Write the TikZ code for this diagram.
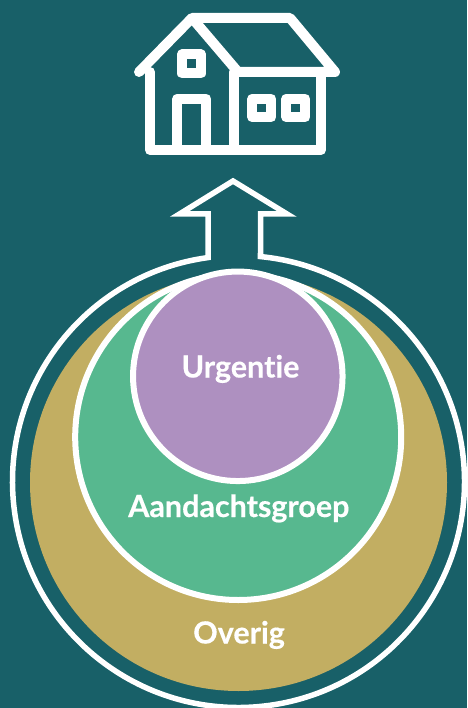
\documentclass[tikz,border=0pt]{standalone}
\usepackage{fontspec}
\usetikzlibrary{calc}
\setmainfont[Ligatures=NoCommon,BoldFeatures={FakeBold=0.4}]{Lato}
\definecolor{bgteal}{HTML}{186068}
\definecolor{goldc}{HTML}{C2AE62}
\definecolor{greenc}{HTML}{57B88F}
\definecolor{purplec}{HTML}{AE90C0}
\tikzset{
  house/.style={draw=white,line width=10pt,line cap=round,line join=round},
  ringline/.style={draw=white,line width=5.5pt,miter limit=20,line join=miter},
  disc/.style={circle,inner sep=0pt,outer sep=0pt},
  lab/.style={text=white,inner sep=0pt,anchor=base,font=\bfseries\fontsize{30.5}{30.5}\selectfont}
}
\begin{document}
\begin{tikzpicture}[x=1pt,y=-1pt]
\path[use as bounding box,fill=bgteal] (0,0) rectangle (467,708);
\clip (0,0) rectangle (467,708);
% outer ring and arrow
\coordinate (ringc) at (238.5,481.5);
\coordinate (stemL) at (208,214);
\coordinate (stemR) at (260.5,214);
\coordinate (wingL) at (179.5,214);
\coordinate (wingR) at (287,214);
\coordinate (tip) at (233,181);
\pgfmathsetmacro{\na}{asin(30.5/226)}
\pgfmathsetmacro{\nb}{asin(22/226)}
\pgfmathsetmacro{\sa}{-90-\na}
\pgfmathsetmacro{\ea}{-450+\nb}
\draw[ringline]
  (stemL) -- ($(ringc)+(\sa:226)$)
  arc[start angle=\sa,end angle=\ea,radius=226]
  -- (stemR) -- (wingR) -- (tip) -- (wingL) -- cycle;
% discs
\node[disc,fill=goldc,minimum size=417pt] (overig) at (238.5,482.5) {};
\node[disc,fill=greenc,draw=white,line width=6pt,minimum size=326pt] (aandacht) at (238.2,437) {};
\node[disc,fill=purplec,draw=white,line width=6pt,minimum size=209.5pt] (urgent) at (237.8,376.3) {};
% labels
\node[lab] (t1) at (240.5,377.5) {Urgentie};
\node[lab] (t2) at (238.8,517) {Aandachtsgroep};
\node[lab] (t3) at (239,643.5) {Overig};
% house
\draw[house] (139,72) -- (192,18) -- (290,18) -- (335,72) -- (238,72) -- (192,18);
\draw[house] (150,72) -- (150,150) -- (321,150) -- (321,72);
\draw[house] (234,72) -- (234,150);
\draw[house] (177.3,150) -- (177.3,98.7) -- (206.3,98.7) -- (206.3,150);
\draw[house] (182,54.5) rectangle (201,73.5);
\draw[house] (252.3,98.7) rectangle (271.3,117.3);
\draw[house] (286.3,98.7) rectangle (305.3,117.3);
\end{tikzpicture}
\end{document}
